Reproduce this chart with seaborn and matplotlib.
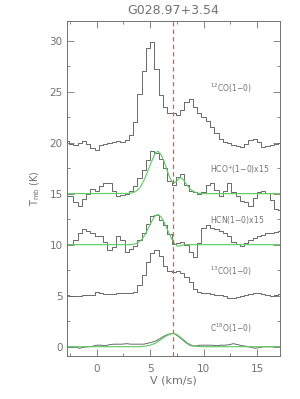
import numpy as np
import pandas as pd
import matplotlib
matplotlib.use("Agg")
import matplotlib.pyplot as plt
import seaborn as sns
from matplotlib.ticker import MultipleLocator

# ---------------- data ----------------
velocity = [-2.8, -2.4, -2.0, -1.6, -1.2, -0.8, -0.4, 0.0, 0.4, 0.8,
            1.2, 1.6, 2.0, 2.4, 2.8, 3.2, 3.6, 4.0, 4.4, 4.8,
            5.2, 5.6, 6.0, 6.4, 6.8, 7.2, 7.6, 8.0, 8.4, 8.8,
            9.2, 9.6, 10.0, 10.4, 10.8, 11.2, 11.6, 12.0, 12.4, 12.8,
            13.2, 13.6, 14.0, 14.4, 14.8, 15.2, 15.6, 16.0, 16.4, 16.8, 17.2]

co12 = [20.2, 19.9, 19.8, 20.0, 20.2, 19.9, 19.5, 19.3, 19.8, 19.9,
        20.0, 20.1, 20.2, 20.1, 20.3, 20.7, 22.0, 24.8, 27.0, 29.3,
        29.9, 27.2, 24.7, 23.5, 22.9, 22.9, 22.7, 23.2, 24.0, 24.3,
        23.5, 22.9, 22.5, 22.1, 21.5, 20.9, 20.4, 20.1, 20.0, 19.8,
        19.7, 19.6, 19.9, 20.3, 20.4, 20.1, 19.6, 19.7, 19.8, 19.9, 20.0]

hco = [14.8, 14.8, 14.2, 13.8, 14.5, 15.0, 15.5, 15.3, 15.7, 16.05,
       16.0, 15.3, 14.8, 14.9, 15.0, 15.3, 15.7, 16.5, 17.3, 18.3,
       19.2, 19.0, 18.4, 17.5, 16.2, 15.8, 16.6, 16.9, 15.8, 15.3,
       15.2, 15.0, 15.2, 15.8, 16.0, 15.4, 14.8, 15.3, 16.0, 15.2,
       14.8, 14.3, 14.2, 13.8, 14.6, 15.2, 15.3, 15.1, 14.4, 13.5, 13.4]

hcn = [10.1, 10.1, 10.5, 11.1, 11.5, 11.3, 11.1, 10.8, 10.8, 10.3,
       9.5, 9.8, 10.8, 10.45, 9.3, 9.6, 9.9, 10.45, 11.1, 12.0,
       12.8, 12.95, 12.4, 11.9, 11.0, 10.1, 10.2, 10.3, 10.0, 9.3,
       8.8, 10.2, 11.6, 11.9, 11.6, 11.5, 11.3, 11.1, 10.8, 10.3,
       10.1, 9.9, 10.2, 10.5, 10.7, 10.8, 10.9, 11.1, 11.1, 11.25, 11.3]

co13 = [5.05, 4.95, 4.95, 5.0, 5.05, 5.05, 5.1, 5.4, 5.25, 5.15,
        5.2, 5.2, 5.25, 5.25, 5.3, 5.3, 5.35, 6.0, 7.0, 8.3,
        9.2, 9.5, 8.9, 7.9, 7.4, 7.35, 7.45, 7.25, 6.8, 6.3,
        5.7, 5.4, 5.3, 5.25, 5.2, 5.1, 5.05, 4.95, 4.8, 4.75,
        4.85, 5.0, 5.1, 5.15, 5.25, 5.3, 5.15, 5.05, 4.95, 5.05, 5.15]

c18o = [-0.1, 0.0, -0.05, -0.15, -0.05, 0.0, 0.05, 0.15, 0.15, 0.1,
        0.2, 0.25, 0.25, 0.25, 0.3, 0.25, 0.25, 0.25, 0.25, 0.35,
        0.45, 0.6, 0.85, 1.1, 1.25, 1.3, 1.05, 0.7, 0.35, 0.1,
        0.05, 0.15, 0.15, 0.15, 0.15, 0.1, 0.15, 0.15, 0.2, 0.3,
        0.2, 0.1, 0.05, -0.05, -0.15, -0.1, 0.0, 0.0, 0.0, 0.0, 0.0]

# Gaussian fits (green)
hco_fit_v = [-2.8, 3.0, 3.25, 3.5, 3.75, 4.0, 4.25, 4.5, 4.75, 5.0, 5.25, 5.5, 5.75,
             6.0, 6.25, 6.5, 6.75, 7.0, 7.25, 7.5, 7.75, 8.0, 8.25, 8.5, 8.75,
             9.0, 9.25, 9.5, 10.0, 17.2]
hco_fit_t = [15.0, 15.02, 15.06, 15.15, 15.3, 15.55, 15.95, 16.5, 17.15, 17.8, 18.45, 19.0, 19.15,
             18.85, 18.3, 17.55, 16.8, 16.25, 16.05, 16.25, 16.55, 16.5, 16.15, 15.75, 15.45,
             15.25, 15.12, 15.05, 15.0, 15.0]

hcn_fit_v = [-2.8, 3.0, 3.5, 3.75, 4.0, 4.25, 4.5, 4.75, 5.0, 5.25, 5.5, 5.75,
             6.0, 6.25, 6.5, 6.75, 7.0, 7.25, 7.5, 7.75, 8.0, 8.25, 17.2]
hcn_fit_t = [10.0, 10.0, 10.05, 10.15, 10.3, 10.55, 10.95, 11.45, 12.0, 12.5, 12.85, 12.95,
             12.75, 12.3, 11.75, 11.15, 10.6, 10.15, 9.9, 9.85, 9.95, 10.0, 10.0]

c18o_fit_v = [-2.8, 4.0, 4.5, 5.0, 5.5, 6.0, 6.5, 7.0, 7.2, 7.5, 8.0, 8.5, 9.0, 9.5, 10.0, 17.2]
c18o_fit_t = [0.0, 0.0, 0.05, 0.15, 0.35, 0.7, 1.05, 1.28, 1.3, 1.2, 0.8, 0.35, 0.1, 0.02, 0.0, 0.0]

line_labels = [r"$^{12}$CO(1$-$0)", r"HCO$^{+}$(1$-$0)x15", r"HCN(1$-$0)x15",
               r"$^{13}$CO(1$-$0)", r"C$^{18}$O(1$-$0)"]
label_y = [25.3, 17.35, 12.4, 7.35, 1.8]
label_x = 10.6
v_sys = 7.1
title = "G028.97+3.54"

# ---------------- plotting ----------------
sns.set_theme(style="white")
plt.rcParams["font.family"] = ["DejaVu Sans"]
plt.rcParams["mathtext.fontset"] = "dejavusans"

fig = plt.figure(figsize=(3.0, 3.99), dpi=100)
ax = fig.add_axes([0.223, 0.108, 0.71, 0.839])

grey = "#5e5e5e"
txt = "#727272"
green = "#62cc66"

spectra = {"co12": co12, "hco": hco, "hcn": hcn, "co13": co13}
for name, vals in spectra.items():
    df = pd.DataFrame({"v": velocity, "T": vals})
    sns.lineplot(data=df, x="v", y="T", ax=ax, color=grey, lw=0.65,
                 drawstyle="steps-mid", estimator=None, sort=False)

df = pd.DataFrame({"v": velocity, "T": c18o})
sns.lineplot(data=df, x="v", y="T", ax=ax, color=grey, lw=0.65,
             estimator=None, sort=False)

for fv, ft in [(hco_fit_v, hco_fit_t), (hcn_fit_v, hcn_fit_t), (c18o_fit_v, c18o_fit_t)]:
    dff = pd.DataFrame({"v": fv, "T": ft})
    sns.lineplot(data=dff, x="v", y="T", ax=ax, color=green, lw=0.85,
                 estimator=None, sort=False)

ax.axvline(v_sys, color="#d9643c", lw=0.9, ls=(0, (3.5, 2.5)))

for lab, yy in zip(line_labels, label_y):
    ax.text(label_x, yy, lab, fontsize=5.5, color=txt, ha="left", va="center")

ax.set_xlim(-2.8, 17.15)
ax.set_ylim(-0.9, 31.9)
ax.xaxis.set_major_locator(MultipleLocator(5))
ax.xaxis.set_minor_locator(MultipleLocator(2.5))
ax.yaxis.set_major_locator(MultipleLocator(5))
ax.yaxis.set_minor_locator(MultipleLocator(2.5))
ax.tick_params(which="both", direction="in", top=True, right=True,
               bottom=True, left=True, color=txt, width=0.6)
ax.tick_params(which="major", length=5, labelsize=7.5, labelcolor=txt)
ax.tick_params(which="minor", length=2.5)
ax.tick_params(axis="x", which="major", pad=6)
ax.tick_params(axis="y", which="major", pad=3)

for sp in ax.spines.values():
    sp.set_color(txt)
    sp.set_linewidth(0.7)

ax.set_xlabel("V (km/s)", fontsize=8, color=txt)
ax.set_ylabel(r"T$_{\rm mb}$ (K)", fontsize=7, color=txt)
ax.xaxis.set_label_coords(0.5, -0.058)
ax.yaxis.set_label_coords(-0.115, 0.5)
ax.set_title(title, fontsize=9, color=txt, pad=5)

fig.savefig("out.png", dpi=100)
